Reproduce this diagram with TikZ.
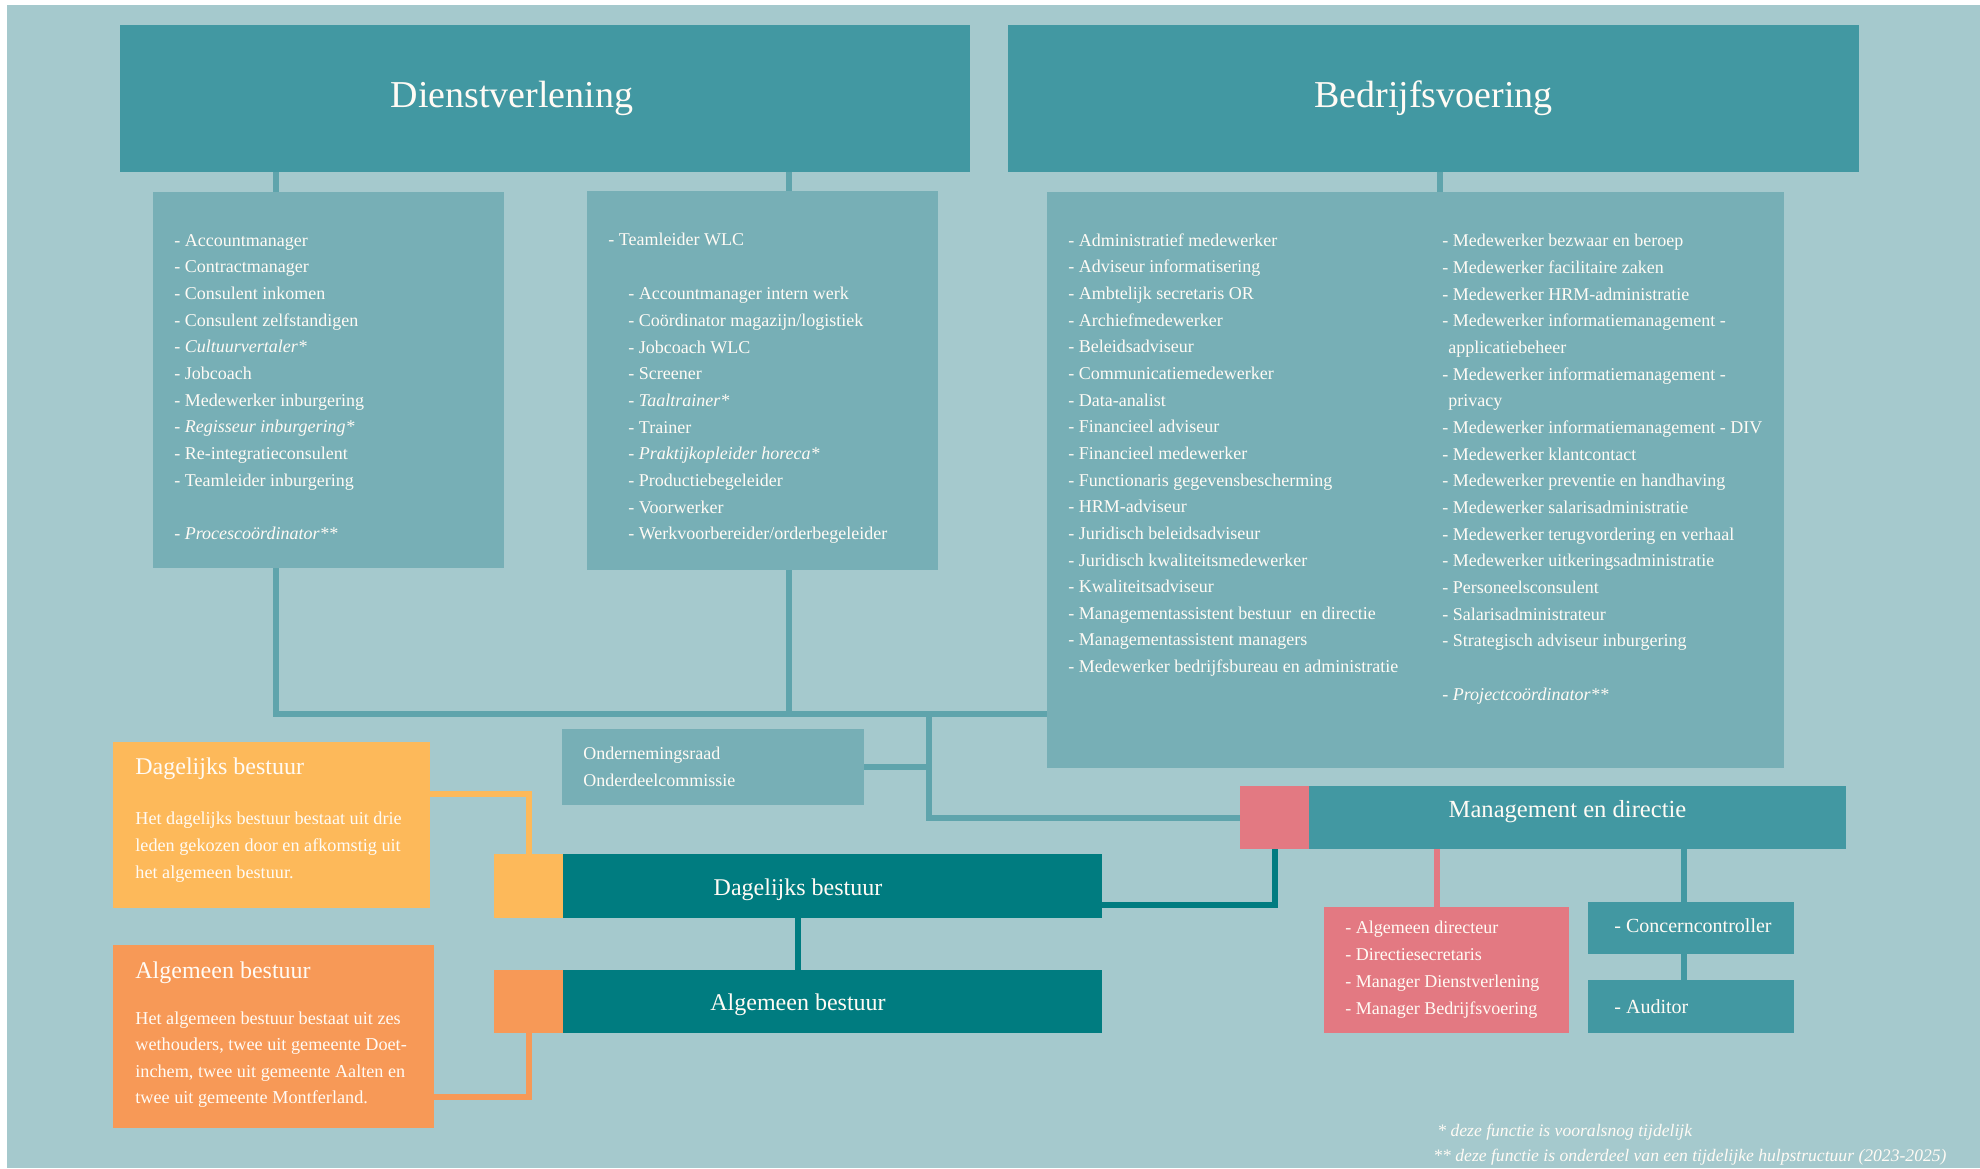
\documentclass[tikz,border=0pt]{standalone}
\usepackage{fontspec}
\setmainfont{Liberation Serif}
\usepackage{tikz}
\usetikzlibrary{positioning,calc}

\definecolor{bgteal}{HTML}{A5C9CD}
\definecolor{headteal}{HTML}{4298A2}
\definecolor{listteal}{HTML}{77AFB6}
\definecolor{lineteal}{HTML}{5FA4AC}
\definecolor{darkteal}{HTML}{007C80}
\definecolor{dborange}{HTML}{FDB95A}
\definecolor{aborange}{HTML}{F79957}
\definecolor{mgmtred}{HTML}{E37982}
\definecolor{paper}{HTML}{FFFBF5}

\begin{document}
\begin{tikzpicture}[x=0.5pt,y=-0.5pt,
  box/.style={rectangle,inner sep=0pt,outer sep=0pt,anchor=north west,text=paper},
  headbox/.style={box,fill=headteal,font=\fontsize{19}{22}\selectfont},
  listbox/.style={box,fill=listteal},
  barbox/.style={box,fill=darkteal,font=\fontsize{12}{14}\selectfont,text height=12pt},
  itemtext/.style={inner sep=0pt,anchor=north west,align=left,text=paper,font=\fontsize{9}{13.33}\selectfont},
  conn/.style={draw=lineteal,line width=3pt}]
  \useasboundingbox (0,0) rectangle (1980,1168);
  \fill[bgteal] (7,5) rectangle (1980,1168);

  \node[headbox,minimum width=425pt,minimum height=73.5pt] (dv_head) at (120,25) {Dienstverlening\hspace*{33pt}};
  \node[headbox,minimum width=425.5pt,minimum height=73.5pt] (bv_head) at (1008,25) {Bedrijfsvoering};

  \node[listbox,minimum width=175.5pt,minimum height=188pt] (box_1) at (153,192) {};
  \node[listbox,minimum width=175.5pt,minimum height=189.5pt] (box_2) at (587,191) {};
  \node[listbox,minimum width=368.5pt,minimum height=288pt] (box_3) at (1047,192) {};

  \node[itemtext] (dv_list1) at (174,234) {- Accountmanager\\- Contractmanager\\- Consulent inkomen\\- Consulent zelfstandigen\\- \textit{Cultuurvertaler*}\\- Jobcoach\\- Medewerker inburgering\\- \textit{Regisseur inburgering*}\\- Re-integratieconsulent\\- Teamleider inburgering\\[13.33pt]- \textit{Procescoördinator**}};
  \node[itemtext] (wlc_lead) at (608,233) {- Teamleider WLC};
  \node[itemtext] (wlc_list) at (628,287) {- Accountmanager intern werk\\- Coördinator magazijn/logistiek\\- Jobcoach WLC\\- Screener\\- \textit{Taaltrainer*}\\- Trainer\\- \textit{Praktijkopleider horeca*}\\- Productiebegeleider\\- Voorwerker\\- Werkvoorbereider/orderbegeleider};
  \node[itemtext] (bv_list1) at (1068,233) {- Administratief medewerker\\- Adviseur informatisering\\- Ambtelijk secretaris OR\\- Archiefmedewerker\\- Beleidsadviseur\\- Communicatiemedewerker\\- Data-analist\\- Financieel adviseur\\- Financieel medewerker\\- Functionaris gegevensbescherming\\- HRM-adviseur\\- Juridisch beleidsadviseur\\- Juridisch kwaliteitsmedewerker\\- Kwaliteitsadviseur\\- Managementassistent bestuur\ \ en directie\\- Managementassistent managers\\- Medewerker bedrijfsbureau en administratie};
  \node[itemtext] (bv_list2) at (1442,234) {- Medewerker bezwaar en beroep\\- Medewerker facilitaire zaken\\- Medewerker HRM-administratie\\- Medewerker informatiemanagement -\\\hspace*{3pt}applicatiebeheer\\- Medewerker informatiemanagement -\\\hspace*{3pt}privacy\\- Medewerker informatiemanagement - DIV\\- Medewerker klantcontact\\- Medewerker preventie en handhaving\\- Medewerker salarisadministratie\\- Medewerker terugvordering en verhaal\\- Medewerker uitkeringsadministratie\\- Personeelsconsulent\\- Salarisadministrateur\\- Strategisch adviseur inburgering\\[13.33pt]- \textit{Projectcoördinator**}};

  \node[box,fill=listteal,minimum width=151pt,minimum height=38pt] (or_box) at (562,729) {};
  \node[itemtext,font=\fontsize{9}{13.5}\selectfont,right=10.5pt of or_box.west] (or_text) {Ondernemingsraad\\Onderdeelcommissie};

  \node[box,fill=dborange,minimum width=158.5pt,minimum height=83pt] (db_desc) at (113,742) {};
  \node[itemtext,font=\fontsize{12}{14}\selectfont] (db_title) at (135,757) {Dagelijks bestuur};
  \node[itemtext,font=\fontsize{9.1}{13.5}\selectfont] (db_text) at (135,811) {Het dagelijks bestuur bestaat uit drie\\leden gekozen door en afkomstig uit\\het algemeen bestuur.};
  \node[box,fill=aborange,minimum width=160.5pt,minimum height=91.5pt] (ab_desc) at (113,945) {};
  \node[itemtext,font=\fontsize{12}{14}\selectfont] (ab_title) at (135,961) {Algemeen bestuur};
  \node[itemtext,font=\fontsize{9.1}{13.3}\selectfont] (ab_text) at (135,1011) {Het algemeen bestuur bestaat uit zes\\wethouders, twee uit gemeente Doet-\\inchem, twee uit gemeente Aalten en\\twee uit gemeente Montferland.};

  \node[barbox,minimum width=304pt,minimum height=32pt] (db_bar) at (494,854) {Dagelijks bestuur};
  \node[box,fill=dborange,minimum width=34.5pt,minimum height=32pt] (db_sq) at (db_bar.north west) {};
  \node[barbox,minimum width=304pt,minimum height=31.5pt,below=26pt of db_bar] (ab_bar) {Algemeen bestuur};
  \node[box,fill=aborange,minimum width=34.5pt,minimum height=31.5pt] (ab_sq) at (ab_bar.north west) {};

  \node[box,fill=mgmtred,minimum width=34.5pt,minimum height=31.5pt] (mgmt_sq) at (1240,786) {};
  \node[headbox,font=\fontsize{12.3}{14}\selectfont,text depth=8.5pt,minimum width=268.5pt,minimum height=31.5pt,right=0pt of mgmt_sq] (mgmt_bar) {Management en directie\hspace*{10pt}};
  \node[box,fill=mgmtred,minimum width=122.5pt,minimum height=63pt] (dir_box) at (1324,907) {};
  \node[itemtext,font=\fontsize{9}{13.5}\selectfont,right=10.5pt of dir_box.west] (dir_list) {- Algemeen directeur\\- Directiesecretaris\\- Manager Dienstverlening\\- Manager Bedrijfsvoering};
  \node[box,fill=headteal,minimum width=103pt,minimum height=26pt] (cc_box) at (1588,902) {};
  \node[itemtext,font=\fontsize{10}{12}\selectfont,right=13pt of cc_box.west,yshift=1pt] (cc_text) {- Concerncontroller};
  \node[box,fill=headteal,minimum width=103pt,minimum height=26.5pt,below=13pt of cc_box] (aud_box) {};
  \node[itemtext,font=\fontsize{10}{12}\selectfont,right=13pt of aud_box.west] (aud_text) {- Auditor};

  \node[itemtext,font=\itshape\fontsize{8.8}{12.5}\selectfont] (notes) at (1433,1124) {\hspace*{2pt}* deze functie is vooralsnog tijdelijk\\** deze functie is onderdeel van een tijdelijke hulpstructuur (2023-2025)};

  \coordinate (j_dv1) at (276,714);
  \coordinate (j_dv2) at (789,714);
  \coordinate (j_or) at (929,714);
  \coordinate (j_bv) at (1440,180);
  \coordinate (j_dir) at ($(dir_box.north)+(-10,0)$);
  \coordinate (j_cc) at ($(cc_box.north)+(-7,0)$);

  \draw[conn] (dv_head.south -| j_dv1) -- (box_1.north -| j_dv1);
  \draw[conn] (dv_head.south -| j_dv2) -- (box_2.north -| j_dv2);
  \draw[conn] (bv_head.south -| j_bv) -- (box_3.north -| j_bv);
  \draw[conn] (box_1.south -| j_dv1) |- (j_dv1 -| box_3.west);
  \draw[conn] (box_2.south -| j_dv2) -- (j_dv2);
  \draw[conn] (or_box.east) -- (or_box.east -| j_or);
  \draw[conn] (j_or) |- (mgmt_sq.west);
  \draw[conn,draw=darkteal] (db_bar.south) -- (ab_bar.north);
  \draw[conn,draw=darkteal] ($(db_bar.south east)+(0,-13)$) -| (mgmt_sq.south);
  \draw[conn,draw=dborange] ($(db_desc.north east)+(0,52)$) -| (db_sq.north);
  \draw[conn,draw=aborange] (ab_sq.south) |- ($(ab_desc.north east)+(0,152)$);
  \draw[conn,draw=mgmtred] (j_dir) -- (j_dir |- mgmt_bar.south);
  \draw[conn,draw=headteal] (j_cc) -- (j_cc |- mgmt_bar.south);
  \draw[conn,draw=headteal] (cc_box.south -| j_cc) -- (aud_box.north -| j_cc);
\end{tikzpicture}
\end{document}
